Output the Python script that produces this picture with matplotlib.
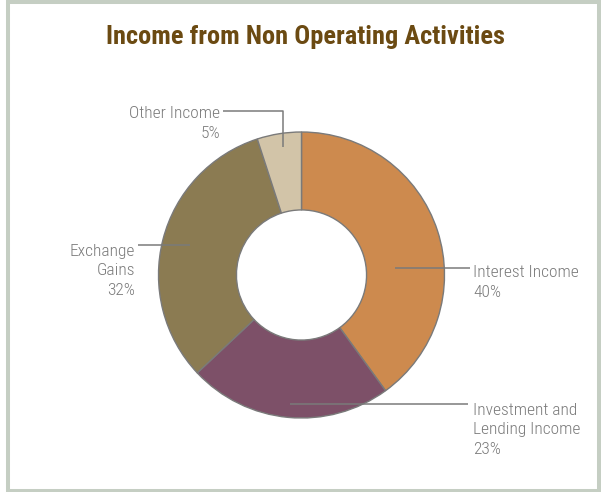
import numpy as np
import matplotlib.pyplot as plt
from matplotlib.patches import Rectangle

# data
labels = ["Interest Income", "Investment and\nLending Income", "Exchange\nGains", "Other Income"]
shares = [40, 23, 32, 5]
colors = ["#CD8A4E", "#7D5068", "#8B7B52", "#D2C4A8"]

W, H = 601, 492
fig = plt.figure(figsize=(W / 100, H / 100), dpi=100)
ax = fig.add_axes([0, 0, 1, 1])


def py(y):
    # pixel row (from top) -> data y
    return H - y


cx, cy, R = 301.5, py(275), 143
wedges, _ = ax.pie(shares, colors=colors, startangle=90, counterclock=False,
                   radius=R, center=(cx, cy), frame=True,
                   wedgeprops=dict(width=R * 0.545, edgecolor="#7A7A7A", linewidth=1.0))
ax.set_xlim(0, W)
ax.set_ylim(0, H)
ax.set_aspect("equal")
ax.axis("off")

fonts = ["Roboto Condensed", "Archivo Narrow", "PT Sans Narrow", "DejaVu Sans"]
pitch = 22  # px between text lines
txt_kw = dict(fontsize=12.5, color="#7A7A7A", family=fonts, fontweight="light",
              linespacing=1.39)
line_kw = dict(color="#7A7A7A", lw=1.1, solid_capstyle="butt")

# leader lines: (text x, text anchor, first baseline y, line path)
layout = [
    (473, "left", 275, [(395, 268), (470, 268)]),
    (473, "left", 410, [(290, 404), (468, 404)]),
    (135, "right", 251, [(138, 245), (190, 245)]),
    (220, "right", 116, [(223, 111), (283, 111), (283, 147)]),
]

for lab, val, (tx, ha, ty, path) in zip(labels, shares, layout):
    xs = [p[0] for p in path]
    ys = [py(p[1]) for p in path]
    ax.plot(xs, ys, **line_kw)
    s = f"{lab}\n{val}%"
    last = ty + pitch * s.count("\n")
    ax.text(tx, py(last), s, ha=ha, va="baseline", ma=ha, **txt_kw)

fig.text(305 / W, 1 - 44 / H, "Income from Non Operating Activities", ha="center", va="baseline",
         fontsize=19, fontweight="bold", color="#6B4A12", family=fonts)

fig.patches.append(Rectangle((7.5 / W, 1.5 / H), (599 - 7.5) / W, (490 - 1.5) / H,
                             transform=fig.transFigure, fill=False,
                             edgecolor="#C5CEC3", linewidth=2.9))

fig.savefig("out.png", dpi=100)
